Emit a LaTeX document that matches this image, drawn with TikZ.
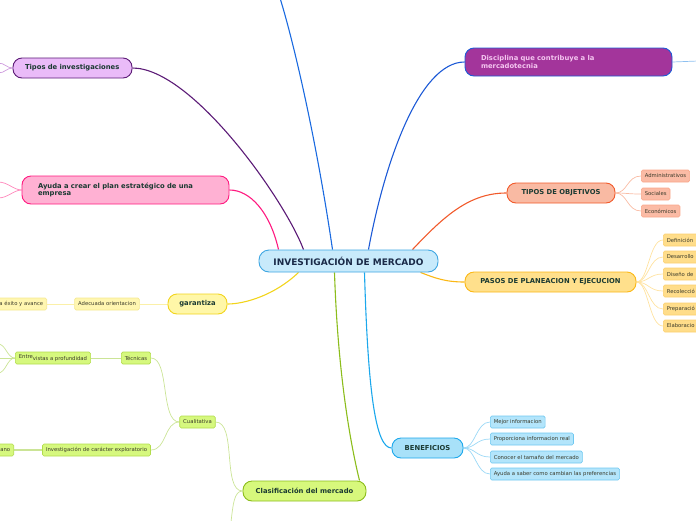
\documentclass[tikz,border=0pt]{standalone}
\usepackage{fontspec}
\setmainfont{DejaVu Sans}
\usetikzlibrary{backgrounds}
\definecolor{cfill}{HTML}{C8EAFB}
\definecolor{cborder}{HTML}{3EA6E2}
\definecolor{ctext}{HTML}{1A2A48}
\definecolor{maintext}{HTML}{1B3A32}
\definecolor{leaftext}{HTML}{3A3A2A}
\definecolor{purpfill}{HTML}{EABBF8}
\definecolor{purpline}{HTML}{5B1A76}
\definecolor{pinkfill}{HTML}{FFB1D3}
\definecolor{pinkline}{HTML}{FF1A80}
\definecolor{discfill}{HTML}{A3359B}
\definecolor{discline}{HTML}{1D5AD6}
\definecolor{disctext}{HTML}{F5C6F0}
\definecolor{topblue}{HTML}{1A6AE0}
\definecolor{paleblue}{HTML}{8EC0F0}
\definecolor{objfill}{HTML}{F9BAA3}
\definecolor{objline}{HTML}{F15A2B}
\definecolor{objleaf}{HTML}{FBBBA5}
\definecolor{objleafb}{HTML}{F9A68A}
\definecolor{objsub}{HTML}{F9BCA4}
\definecolor{pasfill}{HTML}{FFE08C}
\definecolor{pasline}{HTML}{FBB816}
\definecolor{pasleaf}{HTML}{FFDD8A}
\definecolor{pasleafb}{HTML}{FCD070}
\definecolor{passub}{HTML}{FFE2A0}
\definecolor{benfill}{HTML}{A8E1F9}
\definecolor{benline}{HTML}{1CA8EC}
\definecolor{benleaf}{HTML}{B3E5FB}
\definecolor{benleafb}{HTML}{6FC8F0}
\definecolor{bensub}{HTML}{9AD8F6}
\definecolor{garfill}{HTML}{FFF7A8}
\definecolor{garline}{HTML}{F2D41C}
\definecolor{garleaf}{HTML}{FFF6B0}
\definecolor{garleafb}{HTML}{F5E890}
\definecolor{garsub}{HTML}{FBF0A8}
\definecolor{clafill}{HTML}{D7F87C}
\definecolor{claline}{HTML}{8CBD1C}
\definecolor{claleaf}{HTML}{D6F87E}
\definecolor{claleafb}{HTML}{B2DC4C}
\definecolor{clasub}{HTML}{CBE496}
\begin{document}
\begin{tikzpicture}[x=1pt,y=-1pt,
  mainbox/.style={draw, rounded corners=9pt, line width=0.9pt, minimum height=20pt, inner sep=0pt,
    font=\fontsize{6.8}{7.8}\selectfont\bfseries, text=maintext},
  leaf/.style={draw, rounded corners=1.5pt, line width=0.6pt, minimum height=12pt, inner xsep=3.5pt,
    inner ysep=0pt, font=\fontsize{5.3}{6}\selectfont, text=leaftext},
  conn/.style={line width=1.1pt},
  sub/.style={line width=0.7pt}]
\useasboundingbox (0,0) rectangle (696,520);
\clip (0,0) rectangle (696,520);

% main nodes
\node[mainbox, fill=cfill, draw=cborder, minimum width=179pt, minimum height=22pt, rounded corners=10pt,
  font=\fontsize{9}{10}\selectfont\bfseries, text=ctext] (central) at (348.5,261) {INVESTIGACIÓN DE MERCADO};
\node[mainbox, fill=purpfill, draw=purpline, minimum width=119pt, text width=95pt, align=left] (tipos) at (72.5,68) {Tipos de investigaciones};
\node[mainbox, fill=pinkfill, draw=pinkline, minimum width=207pt, minimum height=28pt, text width=175pt, align=left] (ayuda) at (125.5,190) {Ayuda a crear el plan estratégico de una\\empresa};
\node[mainbox, fill=discfill, draw=discline, minimum width=207pt, minimum height=28pt, text width=175pt, align=left, text=disctext] (disc) at (568.5,62) {Disciplina que contribuye a la\\mercadotecnia};
\node[mainbox, fill=objfill, draw=objline, minimum width=108pt] (obj) at (561,193) {TIPOS DE OBJETIVOS};
\node[mainbox, fill=pasfill, draw=pasline, minimum width=171pt] (pasos) at (550.5,282) {PASOS DE PLANEACION Y EJECUCION};
\node[mainbox, fill=benfill, draw=benline, minimum width=71pt] (ben) at (427.5,448) {BENEFICIOS};
\node[mainbox, fill=garfill, draw=garline, minimum width=59pt] (gar) at (197.5,304) {garantiza};
\node[mainbox, fill=clafill, draw=claline, minimum width=123pt] (cla) at (304.5,491) {Clasificación del mercado};

% leaves: objetivos
\node[leaf, fill=objleaf, draw=objleafb, anchor=west] (o1) at (641,176) {Administrativos};
\node[leaf, fill=objleaf, draw=objleafb, anchor=west] (o2) at (641,194) {Sociales};
\node[leaf, fill=objleaf, draw=objleafb, anchor=west] (o3) at (641,211) {Económicos};
% leaves: pasos
\foreach \i/\y/\t in {1/240/Definición, 2/257/Desarrollo, 3/274/Diseño de, 4/291/Recolecció, 5/309/Preparació, 6/326/Elaboracio}
  \node[leaf, fill=pasleaf, draw=pasleafb, anchor=west, text width=44pt, align=left] (p\i) at (663,\y) {\t};
% leaves: beneficios
\node[leaf, fill=benleaf, draw=benleafb, anchor=west] (b1) at (490,422) {Mejor informacion};
\node[leaf, fill=benleaf, draw=benleafb, anchor=west] (b2) at (490,439) {Proporciona informacion real};
\node[leaf, fill=benleaf, draw=benleafb, anchor=west] (b3) at (490,457) {Conocer el tamaño del mercado};
\node[leaf, fill=benleaf, draw=benleafb, anchor=west] (b4) at (490,474) {Ayuda a saber como cambian las preferencias};
% leaves: garantiza
\node[leaf, fill=garleaf, draw=garleafb] (g1) at (107,304) {Adecuada orientacion};
\node[leaf, fill=garleaf, draw=garleafb, anchor=east] (g2) at (47,304) {a éxito y avance};
% leaves: clasificacion
\node[leaf, fill=claleaf, draw=claleafb] (cual) at (197.5,422) {Cualitativa};
\node[leaf, fill=claleaf, draw=claleafb] (tec) at (136,358) {Técnicas};
\node[leaf, fill=claleaf, draw=claleafb, anchor=west] (ent) at (15,358) {\raisebox{1.5pt}{Entre}vistas a profundidad};
\node[leaf, fill=claleaf, draw=claleafb] (inv) at (96.5,450) {Investigación de carácter exploratorio};
\node[leaf, fill=claleaf, draw=claleafb, anchor=east] (ano) at (14,450) {ano};

\coordinate (topend) at (280,-2);
\coordinate (discend) at (698,61);
\coordinate (claend) at (231,522);
\coordinate (t1) at (-2,63); \coordinate (t2) at (-2,73);
\coordinate (a1) at (-2,182); \coordinate (a2) at (-2,198);
\coordinate (e1) at (-2,344); \coordinate (e2) at (-2,358); \coordinate (e3) at (-2,373);

\begin{pgfonlayer}{background}
% main connectors
\draw[conn, purpline] ([xshift=-45pt]central.north) .. controls (285,200) and (192,68) .. (tipos.east);
\draw[conn, pinkline] ([xshift=-70pt]central.north) .. controls (270,212) and (250,190) .. (ayuda.east);
\draw[conn, topblue] ([xshift=-16pt]central.north) .. controls (318,150) and (296,50) .. (topend);
\draw[conn, discline] ([xshift=20pt]central.north) .. controls (385,160) and (420,62) .. (disc.west);
\draw[conn, objline] ([xshift=64pt]central.north) .. controls (445,215) and (470,193) .. (obj.west);
\draw[conn, pasline] ([xshift=72pt]central.south) .. controls (435,278) and (445,282) .. (pasos.west);
\draw[conn, benline] ([xshift=16pt]central.south) .. controls (368,395) and (376,448) .. (ben.west);
\draw[conn, garline] ([xshift=-50pt]central.south) .. controls (275,295) and (245,304) .. (gar.east);
\draw[conn, claline] ([xshift=-14pt]central.south) .. controls (338,380) and (352,450) .. ([xshift=55pt]cla.north);
\draw[sub, paleblue] (disc.east) -- (discend);
% sub connectors
\foreach \n in {o1,o2,o3}
  \draw[sub, objsub] (obj.east) .. controls +(12,0) and ([xshift=-14pt]\n.west) .. (\n.west);
\foreach \n in {p1,p2,p3,p4,p5,p6}
  \draw[sub, passub] (pasos.east) .. controls +(12,0) and ([xshift=-14pt]\n.west) .. (\n.west);
\foreach \n in {b1,b2,b3,b4}
  \draw[sub, bensub] (ben.east) .. controls +(12,0) and ([xshift=-14pt]\n.west) .. (\n.west);
\draw[sub, garsub, line width=1pt] (gar.west) -- (g1.east);
\draw[sub, garsub, line width=1pt] (g1.west) -- (g2.east);
\draw[sub, clasub] (cla.west) .. controls (222,491) and (237,422) .. (cual.east);
\draw[sub, clasub] (cla.west) .. controls (234,491) and (233,505) .. (claend);
\draw[sub, clasub] (cual.west) .. controls (160,422) and (170,358) .. (tec.east);
\draw[sub, clasub] (cual.west) .. controls (164,422) and (167,450) .. (inv.east);
\draw[sub, clasub] (tec.west) -- (ent.east);
\draw[sub, clasub, line width=1.4pt] (inv.west) -- (ano.east);
\draw[sub, clasub] (ent.west) .. controls +(-8,0) and (6,344) .. (e1);
\draw[sub, clasub] (ent.west) -- (e2);
\draw[sub, clasub] (ent.west) .. controls +(-8,0) and (6,373) .. (e3);
\draw[sub, purpfill!80!purpline] (tipos.west) .. controls +(-6,0) and (5,63) .. (t1);
\draw[sub, purpfill!80!purpline] (tipos.west) .. controls +(-6,0) and (5,73) .. (t2);
\draw[sub, pinkfill!70!pinkline] (ayuda.west) .. controls +(-8,0) and (8,182) .. (a1);
\draw[sub, pinkfill!70!pinkline] (ayuda.west) .. controls +(-8,0) and (8,198) .. (a2);
\end{pgfonlayer}
\end{tikzpicture}
\end{document}
